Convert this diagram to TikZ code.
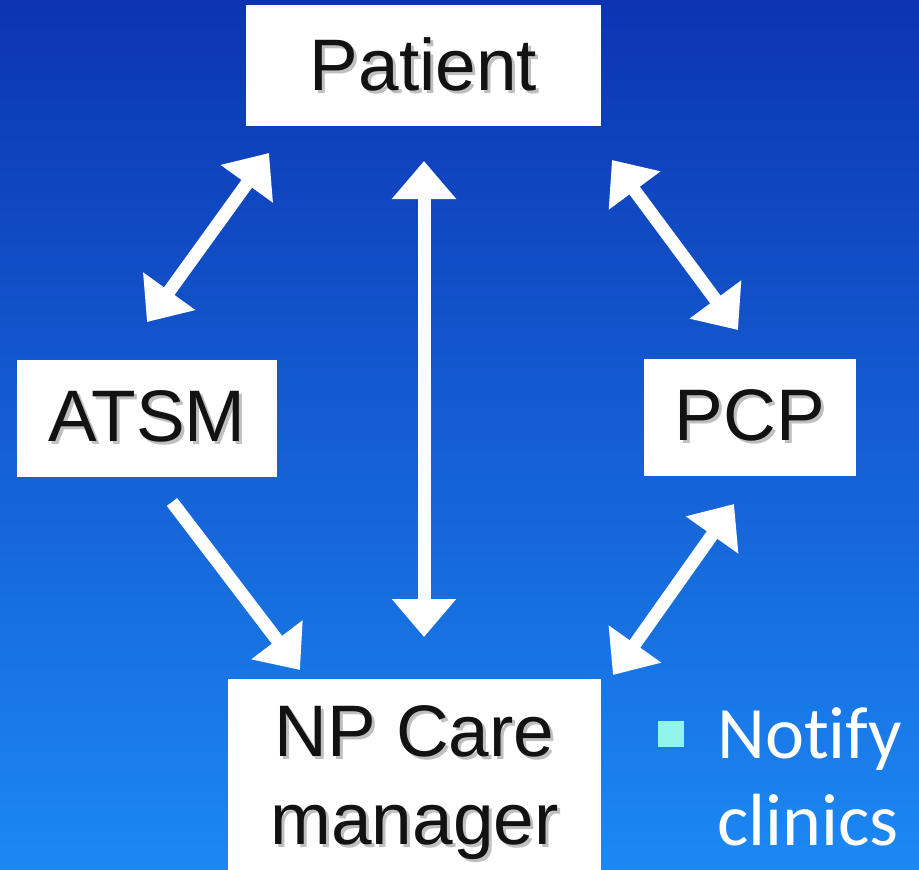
\documentclass[tikz,border=0pt]{standalone}
\usepackage{fontspec}
\setmainfont{Liberation Sans}
\newfontfamily\bulletfont[Ligatures=NoCommon]{Carlito}
\usetikzlibrary{arrows.meta}
\definecolor{bgtop}{RGB}{12,52,178}
\definecolor{bgmid}{RGB}{21,98,214}
\definecolor{bgbot}{RGB}{28,136,243}
\definecolor{bulletsq}{RGB}{143,245,234}
\tikzset{
  role box/.style={
    fill=white,
    inner sep=0pt,
    align=center,
    text=black!93,
    font=\fontsize{73}{88}\selectfont
  },
  link/.style={
    draw=white,
    line width=13pt,
    -{Triangle[length=38pt, width=62pt]}
  },
  both ways/.style={
    link,
    {Triangle[length=38pt, width=62pt]}-{Triangle[length=38pt, width=62pt]}
  },
  bullet square/.style={
    fill=bulletsq,
    inner sep=0pt,
    minimum size=26pt
  }
}
% soft drop shadow behind the box labels
\newcommand{\shtext}[1]{\leavevmode
  \rlap{\kern3pt\raisebox{-3pt}{\color{black!25}#1}}#1}

\begin{document}
\begin{tikzpicture}[x=1pt, y=-1pt]
  \path[use as bounding box, clip] (0,0) rectangle (919,870);
  \shade[top color=bgtop, middle color=bgmid, bottom color=bgbot]
    (0,0) rectangle (919,870);

  %% ---- boxes ----
  \node[role box, minimum width=355pt, minimum height=121pt] (patient) at (423.5,65.5) {\shtext{Patient}};
  \node[role box, minimum width=260pt, minimum height=117pt] (atsm)    at (147,418)    {\shtext{ATSM}};
  \node[role box, minimum width=212pt, minimum height=117pt] (pcp)     at (750,417)    {\shtext{PCP}};
  \node[role box, minimum width=373pt, minimum height=210pt] (npcm)    at (414.5,784)  {\shtext{NP Care}\\\shtext{manager}};

  %% ---- arrow ends ----
  \coordinate (pa) at (269,153);  \coordinate (ap) at (147,322);
  \coordinate (pc) at (612,160);  \coordinate (cp) at (738,330);
  \coordinate (pn) at (424,161);  \coordinate (np) at (424,637);
  \coordinate (an) at (172,502);  \coordinate (na) at (300,670);
  \coordinate (cn) at (734,504);  \coordinate (nc) at (613,675);

  %% ---- arrows ----
  \foreach \a/\b in {ap/pa, pc/cp, pn/np, cn/nc} {
    \draw[both ways] (\a) -- (\b);
  }
  \draw[link] (an) -- (na);

  %% ---- bullet ----
  \node[bullet square] (sq) at (671,734) {};
  \node[anchor=base west, inner sep=0pt, align=left, text=white,
        font=\bulletfont\fontsize{74}{87}\selectfont] (notify) at (717,845) {Notify\\clinics};
\end{tikzpicture}
\end{document}
